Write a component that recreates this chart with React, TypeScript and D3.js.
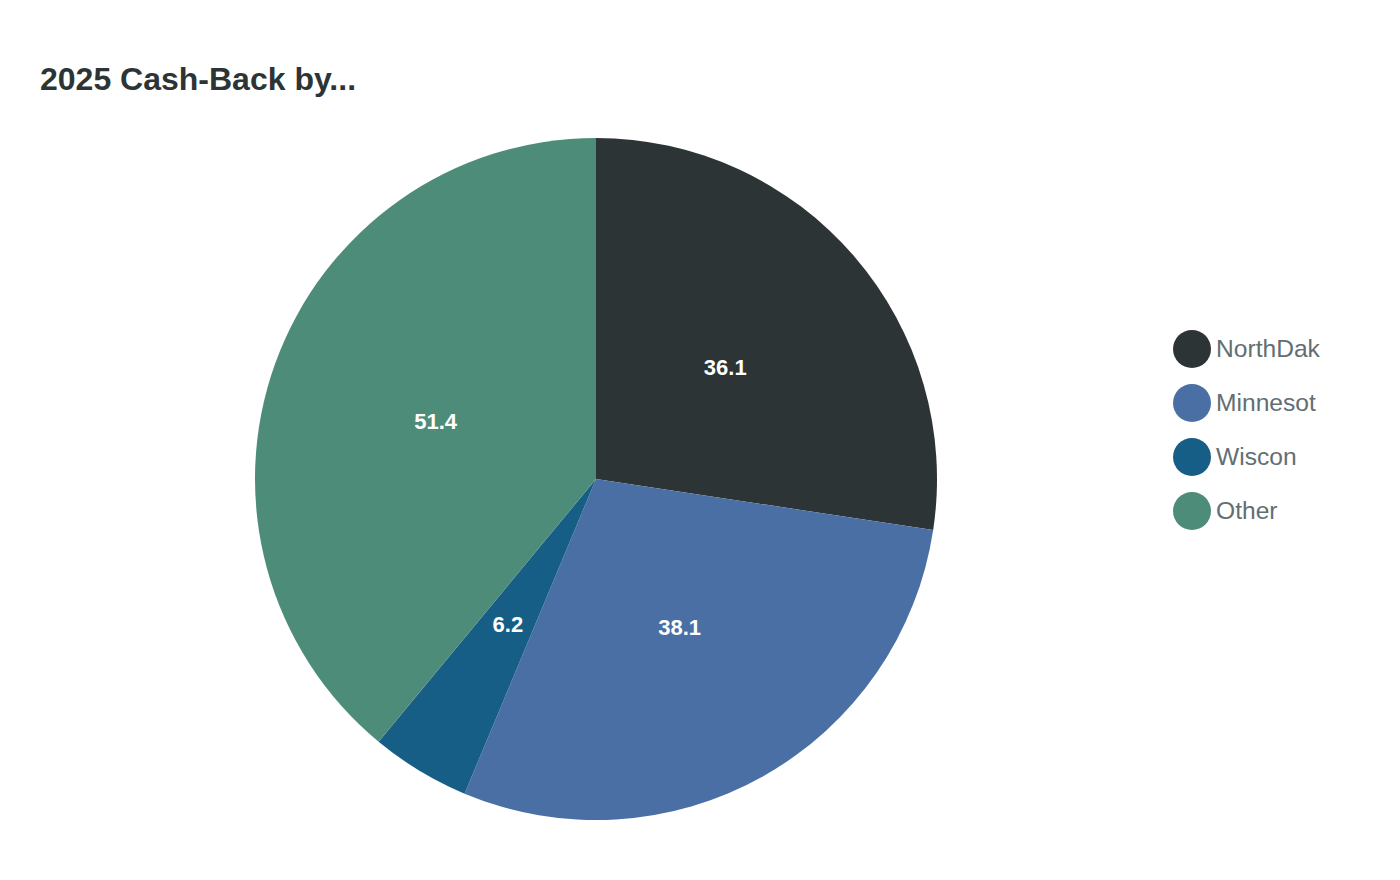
import * as d3 from 'd3';

const categories = ['NorthDak', 'Minnesot', 'Wiscon', 'Other'];
const values = [36.1, 38.1, 6.2, 51.4];
const colors = ['#2d3436', '#4a6fa5', '#175e87', '#4e8c7a'];
const title = '2025 Cash-Back by...';

const W = 1400;
const H = 880;
const cx = 596;
const cy = 479;
const radius = 341;

const FONT = '"Liberation Sans", Arial, Helvetica, sans-serif';

export default function App() {
  const data = categories.map((name, i) => ({ name, value: values[i], color: colors[i] }));
  const pie = d3.pie<(typeof data)[number]>().value((d) => d.value).sort(null);
  const arcs = pie(data);
  const arc = d3.arc<d3.PieArcDatum<(typeof data)[number]>>().innerRadius(0).outerRadius(radius);
  const labelArc = d3
    .arc<d3.PieArcDatum<(typeof data)[number]>>()
    .innerRadius(radius / 2)
    .outerRadius(radius / 2);

  const legendY = d3.scalePoint<string>().domain(categories).range([349, 511]);

  return (
    <svg
      width={W}
      height={H}
      style={{ position: 'absolute', left: 0, top: 0, background: '#fff' }}
      fontFamily={FONT}
    >
      <text x={40} y={90} fontSize={32} fontWeight="bold" fill="#2d3436">
        {title}
      </text>
      <g transform={`translate(${cx},${cy})`}>
        {arcs.map((a) => (
          <path key={a.data.name} d={arc(a) || ''} fill={a.data.color} />
        ))}
        {arcs.map((a) => {
          const [x, y] = labelArc.centroid(a);
          return (
            <text
              key={a.data.name}
              x={x}
              y={y}
              textAnchor="middle"
              dominantBaseline="central"
              fontSize={22}
              fontWeight="bold"
              fill="#ffffff"
            >
              {a.data.value}
            </text>
          );
        })}
      </g>
      <g>
        {data.map((d) => (
          <g key={d.name} transform={`translate(1192,${legendY(d.name)})`}>
            <circle r={19} fill={d.color} />
            <text x={24} y={-1} dominantBaseline="central" fontSize={24.6} fill="#636e72">
              {d.name}
            </text>
          </g>
        ))}
      </g>
    </svg>
  );
}
